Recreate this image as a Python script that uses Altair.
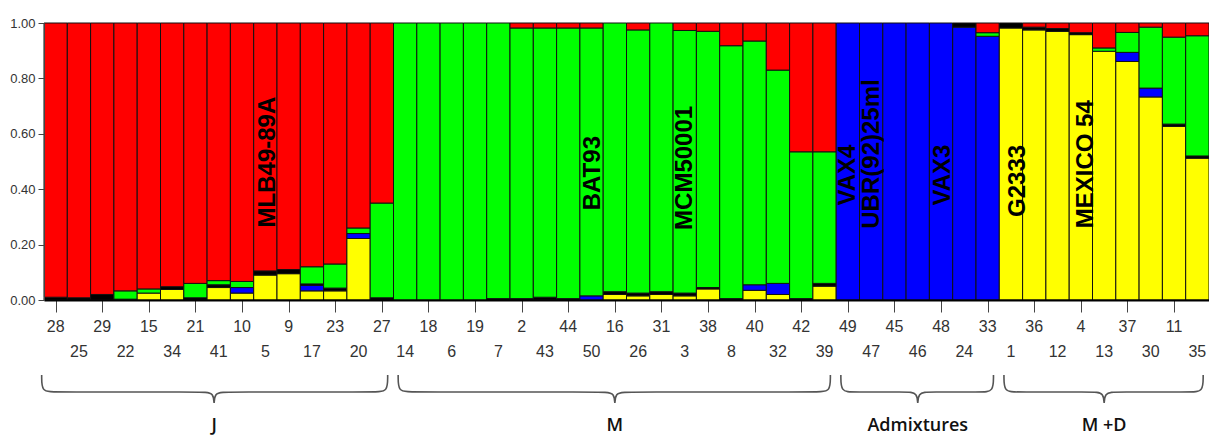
import altair as alt
import pandas as pd

# ---------------- data ----------------
ids = ["28", "25", "29", "22", "15", "34", "21", "41", "10", "5", "9", "17", "23", "20", "27",
       "14", "18", "6", "19", "7", "2", "43", "44", "50", "16", "26", "31", "3", "38", "8",
       "40", "32", "42", "39",
       "49", "47", "45", "46", "48", "24", "33",
       "1", "36", "12", "4", "13", "37", "30", "11", "35"]

group_names = ["J", "M", "Admixtures", "M +D"]
group_sizes = [15, 19, 7, 9]

# stacking order bottom -> top
cluster_names = ["yellow", "blue", "black", "green", "red"]
cluster_colors = ["#FFFF00", "#0000FF", "#000000", "#00FF00", "#FF0000"]

yellow = [0, 0, 0, 0, 0.025, 0.038, 0, 0.045, 0.025, 0.09, 0.095, 0.033, 0.033, 0.222, 0,
          0, 0, 0, 0, 0, 0, 0, 0, 0, 0.02, 0.015, 0.02, 0.015, 0.04, 0, 0.035, 0.02, 0, 0.05,
          0, 0, 0, 0, 0, 0, 0,
          0.982, 0.975, 0.97, 0.958, 0.898, 0.861, 0.733, 0.627, 0.512]
blue = [0, 0, 0, 0, 0, 0, 0, 0, 0.02, 0, 0, 0.02, 0, 0.018, 0,
        0, 0, 0, 0, 0, 0, 0, 0, 0.015, 0, 0, 0, 0, 0, 0, 0.02, 0.04, 0, 0,
        1, 1, 1, 1, 1, 0.985, 0.952,
        0, 0, 0, 0, 0, 0.033, 0.032, 0, 0]
black = [0.01, 0.008, 0.02, 0.003, 0, 0.01, 0.008, 0.01, 0, 0.015, 0.015, 0.005, 0.01, 0, 0.008,
         0, 0, 0, 0, 0.005, 0.005, 0.01, 0.005, 0, 0.01, 0.01, 0.01, 0.01, 0.005, 0.005, 0, 0,
         0.005, 0.01,
         0, 0, 0, 0, 0, 0.015, 0,
         0.018, 0.01, 0.01, 0.007, 0, 0, 0, 0.008, 0.008]
green = [0, 0, 0, 0.03, 0.015, 0, 0.052, 0.015, 0.022, 0, 0, 0.062, 0.087, 0.02, 0.342,
         1, 1, 1, 1, 0.995, 0.977, 0.972, 0.977, 0.967, 0.97, 0.95, 0.97, 0.948, 0.925, 0.913,
         0.88, 0.77, 0.53, 0.475,
         0, 0, 0, 0, 0, 0, 0.013,
         0, 0, 0, 0, 0.012, 0.072, 0.22, 0.314, 0.434]
red = [0.99, 0.992, 0.98, 0.967, 0.96, 0.952, 0.94, 0.93, 0.933, 0.895, 0.89, 0.88, 0.87, 0.74, 0.65,
       0, 0, 0, 0, 0, 0.018, 0.018, 0.018, 0.018, 0, 0.025, 0, 0.027, 0.03, 0.082,
       0.065, 0.17, 0.465, 0.465,
       0, 0, 0, 0, 0, 0, 0.035,
       0, 0.015, 0.02, 0.035, 0.09, 0.034, 0.015, 0.051, 0.046]

# cultivar names written inside the bars (name, x position in bar units, height)
annot_names = ["MLB49-89A", "BAT93", "MCM50001", "VAX4", "UBR(92)25ml", "VAX3", "G2333", "MEXICO 54"]
annot_x = [9.6, 23.55, 27.5, 34.5, 35.55, 38.6, 41.8, 44.7]
annot_y = [0.498, 0.458, 0.477, 0.451, 0.527, 0.451, 0.43, 0.49]

# ---------------- layout constants ----------------
PLOT_W = 1165
PLOT_H = 277
N = len(ids)
SANS = "Liberation Sans, Arial, sans-serif"

# ---------------- tables ----------------
comps = [yellow, blue, black, green, red]
rows = []
for i, lab in enumerate(ids):
    base = 0.0
    for c, name in enumerate(cluster_names):
        v = comps[c][i]
        if v > 0:
            rows.append(dict(bar=i, id=lab, cluster=name, x0=i, x1=i + 1, y0=base, y1=base + v))
        base += v
bars_df = pd.DataFrame(rows)

lab_df = pd.DataFrame({"id": ids, "xc": [i + 0.5 for i in range(N)], "row": [i % 2 for i in range(N)]})

annot_df = pd.DataFrame({"name": annot_names, "x": annot_x, "y": annot_y})

# braces under each group
brace_rows = []
grp_rows = []
start = 0
top_y, flat_y, tip_y = -75 / PLOT_H, -92 / PLOT_H, -103 / PLOT_H
tip_ctrl = flat_y + 1.5 * (tip_y - flat_y)
for g, (gname, size) in enumerate(zip(group_names, group_sizes)):
    x0 = start - 0.1 if g == 0 else start + 0.2
    x1 = start + size - 0.25
    tip = start + size / 2 - (0.2 if g == 0 else 0.0)
    pts = [(x0, top_y), (x0, flat_y), (x0 + 0.5, flat_y), (tip - 0.5, flat_y), (tip, flat_y),
           (tip, tip_ctrl), (tip, flat_y), (tip + 0.5, flat_y), (x1 - 0.5, flat_y), (x1, flat_y),
           (x1, top_y)]
    for k, (px, py) in enumerate(pts):
        brace_rows.append(dict(group=gname, k=k, x=px, y=py))
    grp_rows.append(dict(group=gname, x=tip))
    start += size
brace_df = pd.DataFrame(brace_rows)
grp_df = pd.DataFrame(grp_rows)

# ---------------- chart ----------------
xscale = alt.Scale(domain=[0, N], nice=False, zero=False)
yscale = alt.Scale(domain=[0, 1], nice=False, zero=False)

bars = alt.Chart(bars_df).mark_rect(stroke="#111111", strokeWidth=1).encode(
    x=alt.X("x0:Q", scale=xscale,
            axis=alt.Axis(values=[i + 0.5 for i in range(N)], labels=False, title=None, grid=False,
                          tickSize=12, tickColor="#444444", domainColor="#000000", domainWidth=2,
                          zindex=1)),
    x2="x1:Q",
    y=alt.Y("y0:Q", scale=yscale,
            axis=alt.Axis(values=[0, 0.2, 0.4, 0.6, 0.8, 1.0], format=".2f", title=None, grid=False,
                          tickSize=6, labelFont=SANS, labelFontSize=13, labelColor="#333333",
                          labelPadding=3, domainColor="#444444", tickColor="#444444", zindex=1)),
    y2="y1:Q",
    color=alt.Color("cluster:N", scale=alt.Scale(domain=cluster_names, range=cluster_colors), legend=None),
)

row1 = alt.Chart(lab_df).transform_filter("datum.row == 0").mark_text(
    font=SANS, fontSize=16, color="#333333", dy=27, baseline="middle"
).encode(x=alt.X("xc:Q", scale=xscale), y=alt.Y(datum=0, scale=yscale), text="id:N")

row2 = alt.Chart(lab_df).transform_filter("datum.row == 1").mark_text(
    font=SANS, fontSize=16, color="#333333", dy=52, baseline="middle"
).encode(x=alt.X("xc:Q", scale=xscale), y=alt.Y(datum=0, scale=yscale), text="id:N")

annots = alt.Chart(annot_df).mark_text(
    angle=270, font=SANS, fontWeight="bold", fontSize=24,
    color="#000000", align="center", baseline="middle"
).encode(x=alt.X("x:Q", scale=xscale), y=alt.Y("y:Q", scale=yscale), text="name:N")

braces = alt.Chart(brace_df).mark_line(
    interpolate="basis", color="#555555", strokeWidth=1.6
).encode(
    x=alt.X("x:Q", scale=xscale), y=alt.Y("y:Q", scale=yscale),
    detail="group:N", order="k:Q"
)

grp_labels = alt.Chart(grp_df).mark_text(
    font="Open Sans, sans-serif", fontWeight=600, fontSize=18, color="#111111",
    dy=126, baseline="middle"
).encode(x=alt.X("x:Q", scale=xscale), y=alt.Y(datum=0, scale=yscale), text="group:N")

chart = alt.layer(bars, row1, row2, annots, braces, grp_labels).properties(
    width=PLOT_W, height=PLOT_H,
    autosize=alt.AutoSizeParams(type="none"),
    padding={"left": 36, "top": 15, "right": 0, "bottom": 135},
).configure_view(stroke=None)

chart.save("out.html", embed_options={"renderer": "svg", "actions": False})
